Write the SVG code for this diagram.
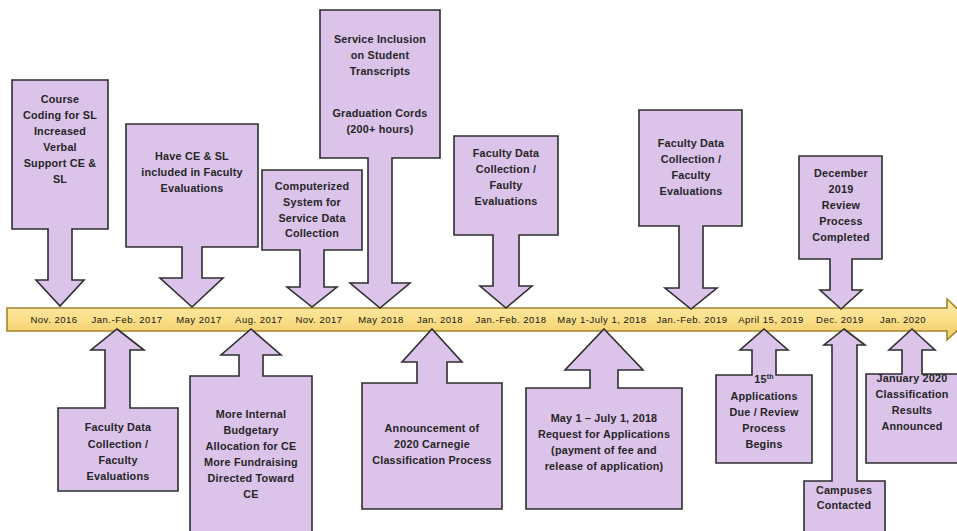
<svg xmlns="http://www.w3.org/2000/svg" width="957" height="531" viewBox="0 0 957 531">
<defs>
<linearGradient id="barGrad" x1="0" y1="0" x2="0" y2="1">
<stop offset="0" stop-color="#FEEDB0"/>
<stop offset="0.5" stop-color="#FBDF88"/>
<stop offset="1" stop-color="#F1C866"/>
</linearGradient>
<style>
.callout{fill:#DBC3EA;stroke:#2e2e2e;stroke-width:1.6;stroke-linejoin:miter}
.t{font-family:"Liberation Sans",Arial,sans-serif;font-size:10.8px;font-weight:bold;letter-spacing:0.2px;fill:#262626;text-anchor:middle}
.d{font-family:"Liberation Sans",Arial,sans-serif;font-size:9.5px;letter-spacing:0.5px;fill:#141414;text-anchor:middle}
</style>
</defs>
<rect width="957" height="531" fill="#ffffff"/>

<g id="timeline">
<polygon points="7,308 947,308 947,299 969,319.5 947,340 947,331 7,331" fill="url(#barGrad)" stroke="#A4852A" stroke-width="1.6"/>
<text class="d" x="54" y="323">Nov. 2016</text>
<text class="d" x="127" y="323">Jan.-Feb. 2017</text>
<text class="d" x="199" y="323">May 2017</text>
<text class="d" x="259" y="323">Aug. 2017</text>
<text class="d" x="319" y="323">Nov. 2017</text>
<text class="d" x="381" y="323">May 2018</text>
<text class="d" x="440" y="323">Jan. 2018</text>
<text class="d" x="511" y="323">Jan.-Feb. 2018</text>
<text class="d" x="602" y="323">May 1-July 1, 2018</text>
<text class="d" x="692" y="323">Jan.-Feb. 2019</text>
<text class="d" x="771" y="323">April 15, 2019</text>
<text class="d" x="840" y="323">Dec. 2019</text>
<text class="d" x="903" y="323">Jan. 2020</text>
</g>

<g id="connectors"></g>

<g id="n1">
<polygon class="callout" points="12,80 108,80 108,229 72,229 72,280 84,280 60,306 36,280 48,280 48,229 12,229"/>
<text class="t" x="60" y="103">Course</text>
<text class="t" x="60" y="119">Coding for SL</text>
<text class="t" x="60" y="135">Increased</text>
<text class="t" x="60" y="151">Verbal</text>
<text class="t" x="60" y="167">Support CE &amp;</text>
<text class="t" x="60" y="183">SL</text>
</g>

<g id="n2">
<polygon class="callout" points="126,124 258,124 258,247 202,247 202,278 223,278 192,307 160,278 182,278 182,247 126,247"/>
<text class="t" x="192" y="160">Have CE &amp; SL</text>
<text class="t" x="192" y="176">included in Faculty</text>
<text class="t" x="192" y="192">Evaluations</text>
</g>

<g id="n3">
<polygon class="callout" points="262,170 362,170 362,250 324,250 324,287 337,287 312,307 287,287 300,287 300,250 262,250"/>
<text class="t" x="312" y="190">Computerized</text>
<text class="t" x="312" y="206">System for</text>
<text class="t" x="312" y="222">Service Data</text>
<text class="t" x="312" y="237">Collection</text>
</g>

<g id="n4">
<polygon class="callout" points="320,10 440,10 440,158 392,158 392,283 410,283 380,308 350,283 368,283 368,158 320,158"/>
<text class="t" x="380" y="43">Service Inclusion</text>
<text class="t" x="380" y="59">on Student</text>
<text class="t" x="380" y="75">Transcripts</text>
<text class="t" x="380" y="117">Graduation Cords</text>
<text class="t" x="380" y="133">(200+ hours)</text>
</g>

<g id="n5">
<polygon class="callout" points="454,136 558,136 558,235 519,235 519,286 532,286 506,308 480,286 493,286 493,235 454,235"/>
<text class="t" x="506" y="157">Faculty Data</text>
<text class="t" x="506" y="173">Collection /</text>
<text class="t" x="506" y="189">Faulty</text>
<text class="t" x="506" y="205">Evaluations</text>
</g>

<g id="n6">
<polygon class="callout" points="639,110 742,110 742,226 703,226 703,288 717,288 691,309 665,288 679,288 679,226 639,226"/>
<text class="t" x="691" y="147">Faculty Data</text>
<text class="t" x="691" y="163">Collection /</text>
<text class="t" x="691" y="179">Faculty</text>
<text class="t" x="691" y="195">Evaluations</text>
</g>

<g id="n7">
<polygon class="callout" points="799,156 882,156 882,259 852,259 852,290 862,290 841,309 820,290 830,290 830,259 799,259"/>
<text class="t" x="841" y="177">December</text>
<text class="t" x="841" y="193">2019</text>
<text class="t" x="841" y="209">Review</text>
<text class="t" x="841" y="225">Process</text>
<text class="t" x="841" y="241">Completed</text>
</g>

<g id="n8">
<polygon class="callout" points="117,329 144,350 130,350 130,408 178,408 178,491 58,491 58,408 105,408 105,350 91,350"/>
<text class="t" x="118" y="431">Faculty Data</text>
<text class="t" x="118" y="448">Collection /</text>
<text class="t" x="118" y="464">Faculty</text>
<text class="t" x="118" y="480">Evaluations</text>
</g>

<g id="n9">
<polygon class="callout" points="251,329 281,355 263,355 263,376 312,376 312,540 190,540 190,376 239,376 239,355 221,355"/>
<text class="t" x="251" y="418">More Internal</text>
<text class="t" x="251" y="434">Budgetary</text>
<text class="t" x="251" y="450">Allocation for CE</text>
<text class="t" x="251" y="466">More Fundraising</text>
<text class="t" x="251" y="482">Directed Toward</text>
<text class="t" x="251" y="498">CE</text>
</g>

<g id="n10">
<polygon class="callout" points="432,329 462,362 447,362 447,383 502,383 502,509 362,509 362,383 417,383 417,362 402,362"/>
<text class="t" x="432" y="432">Announcement of</text>
<text class="t" x="432" y="448">2020 Carnegie</text>
<text class="t" x="432" y="464">Classification Process</text>
</g>

<g id="n11">
<polygon class="callout" points="604,329 643,370 618,370 618,388 682,388 682,509 526,509 526,388 590,388 590,370 565,370"/>
<text class="t" x="604" y="422">May 1 – July 1, 2018</text>
<text class="t" x="604" y="438">Request for Applications</text>
<text class="t" x="604" y="454">(payment of fee and</text>
<text class="t" x="604" y="470">release of application)</text>
</g>

<g id="n12">
<polygon class="callout" points="764,329 788,350 776,350 776,375 812,375 812,463 716,463 716,375 752,375 752,350 740,350"/>
<text class="t" x="764" y="383">15<tspan font-size="7" dy="-4">th</tspan></text>
<text class="t" x="764" y="400">Applications</text>
<text class="t" x="764" y="416">Due / Review</text>
<text class="t" x="764" y="432">Process</text>
<text class="t" x="764" y="448">Begins</text>
</g>

<g id="n13">
<polygon class="callout" points="844,329 865,345 857,345 857,481 885,481 885,540 804,540 804,481 832,481 832,345 824,345"/>
<text class="t" x="844" y="494">Campuses</text>
<text class="t" x="844" y="509">Contacted</text>
</g>

<g id="n14">
<polygon class="callout" points="912,329 935,350 922,350 922,374 962,374 962,463 866,463 866,374 902,374 902,350 889,350"/>
<text class="t" x="912" y="382">January 2020</text>
<text class="t" x="912" y="398">Classification</text>
<text class="t" x="912" y="414">Results</text>
<text class="t" x="912" y="430">Announced</text>
</g>
</svg>
